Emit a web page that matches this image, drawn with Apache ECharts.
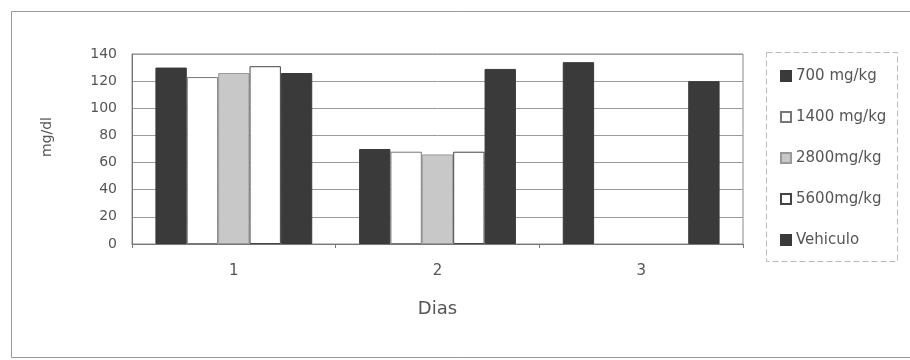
<!DOCTYPE html>
<html><head><meta charset="utf-8">
<script src="https://cdn.jsdelivr.net/npm/echarts@6/dist/echarts.min.js"></script>
<style>html,body{margin:0;padding:0;background:#fff}#c{width:910px;height:360px}</style>
</head><body><div id="c"></div>
<script>
const categories = ['1', '2', '3'];
const seriesNames = ['700 mg/kg', '1400 mg/kg', '2800mg/kg', '5600mg/kg', 'Vehiculo'];
const v700 = [130, 70, 134];
const v1400 = [123, 68, null];
const v2800 = [126, 66, null];
const v5600 = [131, 68, null];
const vVeh = [126, 129, 120];
const yTicks = [0, 20, 40, 60, 80, 100, 120, 140];
const xTitle = 'Dias';
const yTitle = 'mg/dl';

const values = [v700, v1400, v2800, v5600, vVeh];
const fills = ['#3a3a3a', '#ffffff', '#c8c8c8', '#ffffff', '#3a3a3a'];
const borders = ['#3a3a3a', '#777777', '#9a9a9a', '#444444', '#3a3a3a'];
const FONT = 'DejaVu Sans, Arial, sans-serif';

const chart = echarts.init(document.getElementById('c'));
chart.setOption({
  animation: false,
  backgroundColor: '#ffffff',
  textStyle: { fontFamily: FONT, color: '#555' },
  grid: { left: 132, right: 167, top: 54, bottom: 116, show: true, borderColor: '#8a8a8a', borderWidth: 1 },
  xAxis: {
    type: 'category', data: categories,
    name: xTitle, nameLocation: 'middle', nameGap: 56,
    nameTextStyle: { fontSize: 18, color: '#555', fontFamily: FONT },
    axisLine: { lineStyle: { color: '#777' } },
    axisTick: { show: true, length: 4, lineStyle: { color: '#777' } },
    axisLabel: { fontSize: 15, color: '#555', margin: 20, fontFamily: FONT },
    splitLine: { show: false }
  },
  yAxis: {
    type: 'value', min: yTicks[0], max: yTicks[yTicks.length - 1], interval: 20,
    axisLine: { show: true, lineStyle: { color: '#777' } },
    axisTick: { show: false },
    axisLabel: { fontSize: 14, color: '#555', margin: 15, fontFamily: FONT },
    splitLine: { show: true, lineStyle: { color: '#9a9a9a', width: 1 } }
  },
  legend: {
    orient: 'vertical', left: 775, top: 63,
    itemWidth: 10, itemHeight: 10, itemGap: 25,
    icon: 'rect',
    textStyle: { fontSize: 15, lineHeight: 16, color: '#555', fontFamily: FONT },
    data: seriesNames
  },
  graphic: [
    { type: 'rect', shape: { x: 11.5, y: 11.5, width: 940, height: 346 }, style: { fill: 'none', stroke: '#999', lineWidth: 1 }, silent: true },
    { type: 'rect', shape: { x: 766.5, y: 52.5, width: 131, height: 209 }, style: { fill: 'none', stroke: '#bbb', lineWidth: 1, lineDash: [6, 3] }, silent: true },
    { type: 'text', x: 47, y: 137, rotation: Math.PI / 2, silent: true,
      style: { text: yTitle, fontSize: 14, fontFamily: FONT, fill: '#555', align: 'center', verticalAlign: 'middle' } }
  ],
  series: seriesNames.map((n, i) => ({
    name: n, type: 'bar', data: values[i],
    barGap: '0%', barCategoryGap: '23%',
    itemStyle: { color: fills[i], borderColor: borders[i], borderWidth: 1 }
  }))
});
</script></body></html>
